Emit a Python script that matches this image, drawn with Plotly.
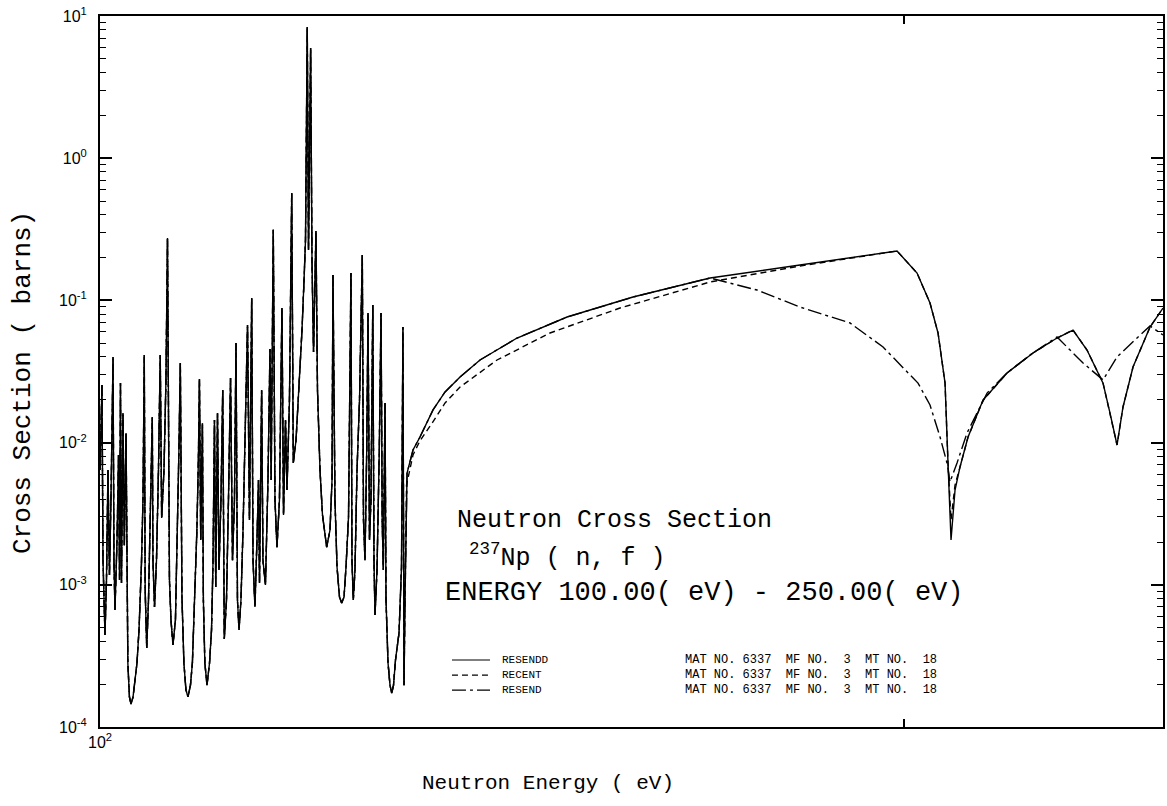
import math
import plotly.graph_objects as go

# ---- resolved resonance region (shared by all three evaluations) ----
res_E = [100.00, 100.17, 100.26, 100.43, 100.56, 100.69, 100.82, 100.95, 101.13, 101.21,
         101.30, 101.48, 101.61, 101.70, 101.78, 101.87, 102.00, 102.12, 102.27, 102.34,
         102.43, 102.57, 102.71, 102.89, 103.06, 103.24, 103.42, 103.64, 103.78, 103.89,
         103.97, 104.11, 104.27, 104.40, 104.61, 104.67, 104.81, 104.99, 105.17, 105.33,
         105.46, 105.67, 105.85, 105.99, 106.08, 106.17, 106.31, 106.49, 106.72, 106.90,
         107.04, 107.17, 107.23, 107.32, 107.50, 107.69, 107.88, 108.11, 108.29, 108.53,
         108.71, 108.85, 108.95, 109.07, 109.23, 109.32, 109.46, 109.66, 109.90, 110.09,
         110.23, 110.37, 110.49, 110.66, 110.80, 110.99, 111.16, 111.31, 111.52, 111.71,
         111.91, 112.10, 112.29, 112.44, 112.58, 112.73, 112.92, 113.12, 113.31, 113.56,
         113.75, 113.97, 114.10, 114.29, 114.49, 114.64, 114.74, 114.95, 115.08, 115.33,
         115.58, 115.78, 115.90, 116.11, 116.28, 116.48, 116.73, 116.98, 117.14, 117.34,
         117.49, 117.74, 117.97, 118.13, 118.41, 118.71, 119.02, 119.23, 119.38, 119.56,
         119.69, 119.91, 120.05, 120.21, 120.46, 120.62, 120.88, 121.14, 121.58, 121.93,
         122.14, 122.24, 122.45, 122.67, 122.93, 123.16, 123.41, 123.62, 123.89, 124.15,
         124.26, 124.40, 124.58, 124.80, 125.07, 125.37, 125.50, 125.66, 125.85, 125.99,
         126.15, 126.31, 126.51, 126.64, 126.75, 126.97, 127.22, 127.41, 127.54, 127.66,
         127.77, 127.85, 127.96, 128.18, 128.40, 128.59, 128.79, 129.01, 129.40, 129.68,
         129.84, 129.96, 130.07, 130.24]
res_xs = [0.00642, 0.0254, 0.00149, 0.000444, 0.00108, 0.00642, 0.00117, 0.00395, 0.0400, 0.00149,
          0.000665, 0.00207, 0.00818, 0.00108, 0.0262, 0.00103, 0.0161, 0.0019, 0.01168, 0.000781,
          0.000282, 0.000163, 0.000145, 0.000163, 0.000204, 0.000282, 0.000481, 0.00142, 0.00414, 0.0413,
          0.000919, 0.000359, 0.000781, 0.00286, 0.0151, 0.00149, 0.000698, 0.00149, 0.00642, 0.0413,
          0.00295, 0.00642, 0.0276, 0.2747, 0.00546, 0.00108, 0.000566, 0.000377, 0.000566, 0.00207,
          0.00887, 0.0363, 0.00395, 0.00082, 0.000282, 0.000182, 0.000163, 0.000197, 0.000282, 0.00082,
          0.00243, 0.00754, 0.0280, 0.00207, 0.0137, 0.000781, 0.000282, 0.000197, 0.000282, 0.000481,
          0.00142, 0.0144, 0.000965, 0.0161, 0.00127, 0.00395, 0.0234, 0.000416, 0.000781, 0.00395,
          0.0285, 0.00149, 0.00395, 0.0502, 0.000781, 0.000481, 0.000781, 0.00243, 0.00887, 0.0671,
          0.00286, 0.1039, 0.00149, 0.000698, 0.00207, 0.00546, 0.00103, 0.0234, 0.00149, 0.000997,
          0.00546, 0.0455, 0.00546, 0.3137, 0.00395, 0.00184, 0.00395, 0.0884, 0.0031, 0.0144,
          0.00464, 0.0199, 0.569, 0.00719, 0.01043, 0.0234, 0.0619, 0.1391, 0.266, 8.37,
          0.2262, 5.96, 0.1862, 0.0434, 0.3076, 0.0234, 0.00642, 0.0031, 0.00184, 0.00243,
          0.00546, 0.1509, 0.00395, 0.00133, 0.00082, 0.000745, 0.00082, 0.00133, 0.0030, 0.1558,
          0.00149, 0.000781, 0.00127, 0.00642, 0.0199, 0.2086, 0.00286, 0.00149, 0.00887, 0.0815,
          0.00207, 0.00395, 0.0928, 0.00149, 0.000613, 0.00127, 0.00887, 0.0815, 0.00286, 0.00127,
          0.00546, 0.0190, 0.000781, 0.000282, 0.000197, 0.000173, 0.000197, 0.000296, 0.000458, 0.00133,
          0.0650, 0.000197, 0.000781, 0.00503]

# ---- unresolved region, per evaluation ----
resendd_E = [130.30, 130.97, 131.76, 133.25, 134.64, 136.39, 138.76, 143.26, 149.57, 158.32,
             169.19, 182.83, 198.78, 202.24, 204.51, 205.93, 207.18, 207.71, 208.25, 208.97,
             209.87, 211.33, 214.08, 218.55, 223.50, 228.17, 231.34, 234.15, 237.41, 238.84,
             240.29, 241.53, 243.62, 247.22, 249.36, 250.0]
resendd_xs = [0.00611, 0.00887, 0.01095, 0.0170, 0.0227, 0.0289, 0.0381, 0.0544, 0.0764, 0.1056,
              0.1437, 0.1774, 0.2226, 0.1558, 0.0959, 0.0590, 0.0262, 0.00719, 0.00207, 0.00464,
              0.00674, 0.01095, 0.0199, 0.0309, 0.0427, 0.0544, 0.0619, 0.0448, 0.0262, 0.0161,
              0.00962, 0.0178, 0.0340, 0.0650, 0.0815, 0.0884]

recent_E = [130.97, 131.76, 133.14, 134.64, 136.39, 140.81, 147.39, 156.55, 169.19, 182.83,
            198.78, 202.24, 204.51, 205.93, 207.18, 207.71, 208.25, 208.97, 209.87, 211.33,
            214.08, 218.55, 223.50, 228.17, 231.34, 234.15, 237.41, 238.84, 240.29, 241.53,
            243.62, 247.22, 249.36, 250.0]
recent_xs = [0.00818, 0.0103, 0.0137, 0.0190, 0.0246, 0.0381, 0.0590, 0.0884, 0.1347, 0.1745,
             0.2226, 0.1558, 0.0959, 0.0590, 0.0262, 0.00719, 0.00286, 0.00503, 0.00674, 0.01095,
             0.0199, 0.0309, 0.0427, 0.0544, 0.0619, 0.0448, 0.0262, 0.0161, 0.00962, 0.0178,
             0.0340, 0.0650, 0.0815, 0.0884]

resend_E = [130.30, 130.97, 131.76, 133.25, 134.64, 136.39, 138.76, 143.26, 149.57, 158.32,
            169.19, 176.18, 182.83, 190.89, 196.40, 202.41, 204.51, 206.29, 207.53, 208.07,
            209.33, 211.14, 214.82, 218.55, 222.93, 228.17, 233.35, 237.41, 240.29, 244.47,
            247.22, 250.0]
resend_xs = [0.00611, 0.00887, 0.01095, 0.0170, 0.0227, 0.0289, 0.0381, 0.0544, 0.0764, 0.1056,
             0.1437, 0.1183, 0.0898, 0.0694, 0.0470, 0.0262, 0.0184, 0.01095, 0.00719, 0.00528,
             0.00719, 0.01168, 0.0223, 0.0309, 0.0413, 0.0553, 0.0363, 0.0276, 0.0400, 0.0544,
             0.0661, 0.0571]

series_names = ["RESENDD", "RECENT", "RESEND"]
mat_label = "MAT NO. 6337\u00a0\u00a0MF NO.\u00a0\u00a03\u00a0\u00a0MT NO.\u00a0\u00a018"

major_vals = [1e-4, 1e-3, 1e-2, 1e-1, 1, 10]
major_text = ["10<sup>-4</sup>", "10<sup>-3</sup>", "10<sup>-2</sup>",
              "10<sup>-1</sup>", "10<sup>0</sup>", "10<sup>1</sup>"]
x_tick_vals = [100, 200]
x_tick_text = ["10<sup>2</sup>", ""]

# all y tick positions: decades labelled, 2..9 sub-decades unlabelled (sorted)
minor_vals = [m * 10.0 ** k for k in range(-4, 1) for m in range(2, 10)]
y_ticks = sorted(list(zip(major_vals, major_text)) + [(v, "") for v in minor_vals])
y_all_vals = [v for v, _ in y_ticks]
y_all_text = [t for _, t in y_ticks]

dashes = {"RESENDD": "solid", "RECENT": "6px,4px", "RESEND": "14px,4px,3px,4px"}
series = [("RESENDD", resendd_E, resendd_xs, "y"),
          ("RECENT", recent_E, recent_xs, "y2"),
          ("RESEND", resend_E, resend_xs, "y")]

fig = go.Figure()
for name, e, xs, yax in series:
    fig.add_trace(go.Scatter(x=res_E + e, y=res_xs + xs, mode="lines", name=name, yaxis=yax,
                             line=dict(color="black", width=1.4, dash=dashes[name]),
                             showlegend=False, hoverinfo="skip"))

y_range = [-4, 1.0001]

fig.update_layout(
    width=1167, height=806,
    margin=dict(l=100, r=4, t=16, b=79, autoexpand=False),
    paper_bgcolor="white", plot_bgcolor="white",
    showlegend=False,
    font=dict(family="Liberation Sans", color="black"),
    xaxis=dict(type="log", range=[2, math.log10(250)], showline=True, linecolor="black",
               linewidth=2, mirror="ticks", ticks="inside", ticklen=8, tickwidth=1.5,
               tickcolor="black", tickvals=x_tick_vals, ticktext=x_tick_text,
               tickfont=dict(size=16, family="Liberation Sans", color="black"),
               ticklabeloverflow="allow",
               showgrid=False, zeroline=False, automargin=False),
    yaxis=dict(type="log", range=y_range, showline=True, linecolor="black", linewidth=2,
               mirror="ticks", ticks="inside", ticklen=6, tickwidth=1.3, tickcolor="black",
               tickvals=y_all_vals, ticktext=y_all_text, ticklabelstandoff=8,
               ticklabeloverflow="allow",
               tickfont=dict(size=16, family="Liberation Sans", color="black"),
               showgrid=False, zeroline=False, automargin=False),
    yaxis2=dict(type="log", range=y_range, overlaying="y", side="left", showline=False,
                mirror="ticks", ticks="inside", ticklen=12, tickwidth=1.5, tickcolor="black",
                tickvals=major_vals, showticklabels=False, showgrid=False, zeroline=False,
                automargin=False),
)

mono = "Liberation Mono"
ann = []
ann.append(dict(text="Neutron Cross Section", x=0.334, y=0.291, font=dict(size=25, family=mono)))
ann.append(dict(text="<sup>237</sup>Np ( n, f )", x=0.345, y=0.2405, font=dict(size=25, family=mono)))
ann.append(dict(text="ENERGY 100.00( eV) - 250.00( eV)", x=0.3227, y=0.1885,
                font=dict(size=27, family=mono)))
leg_y = [0.0942, 0.0731, 0.052]
for name, ly in zip(series_names, leg_y):
    ann.append(dict(text=name, x=0.3763, y=ly, font=dict(size=11, family=mono)))
    ann.append(dict(text=mat_label, x=0.5484, y=ly, font=dict(size=12, family=mono)))
    fig.add_shape(type="line", xref="paper", yref="paper", x0=0.3311, x1=0.3669, y0=ly, y1=ly,
                  line=dict(color="black", width=1.2, dash=dashes[name]))
for a in ann:
    a.update(xref="paper", yref="paper", xanchor="left", yanchor="middle", showarrow=False)
    a["font"]["color"] = "black"
    fig.add_annotation(**a)

fig.add_annotation(text="Neutron Energy ( eV)", xref="paper", yref="paper", x=0.4214, y=-0.0788,
                   xanchor="center", yanchor="middle", showarrow=False,
                   font=dict(size=21, family=mono, color="black"))
fig.add_annotation(text="Cross Section ( barns)", xref="paper", yref="paper", x=-0.0724, y=0.4838,
                   xanchor="center", yanchor="middle", textangle=-90, showarrow=False,
                   font=dict(size=26, family=mono, color="black"))

# remove the browser's default 8px page margin so the figure sits at the window origin
fig.write_html("out.html", config={"displayModeBar": False},
               post_script="document.body.style.margin='0px';")
